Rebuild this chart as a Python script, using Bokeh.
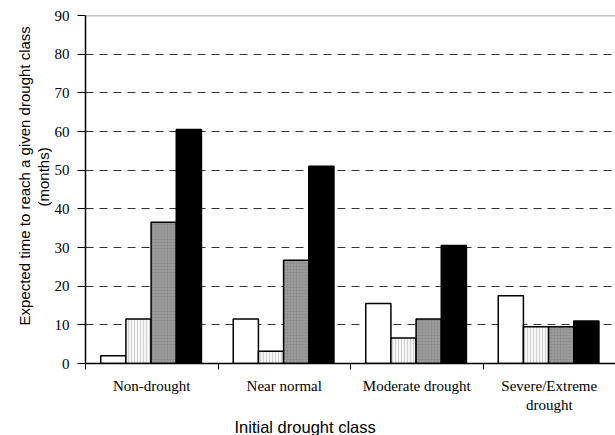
from bokeh.plotting import figure
from bokeh.models import FixedTicker, Span, ColumnDataSource, Title
from bokeh.embed import file_html
from bokeh.resources import INLINE

categories = ["Non-drought", "Near normal", "Moderate drought", "Severe/Extreme\ndrought"]
series1 = [2.0, 11.5, 15.5, 17.5]
series2 = [11.5, 3.2, 6.6, 9.5]
series3 = [36.5, 26.7, 11.5, 9.5]
series4 = [60.5, 51.0, 30.5, 11.0]
y_ticks = [0, 10, 20, 30, 40, 50, 60, 70, 80, 90]
x_title = "Initial drought class"
y_title_1 = "Expected time to reach a given drought class"
y_title_2 = "(months)"

p = figure(width=615, height=435, x_range=(0, 4), y_range=(0, 90),
           output_backend="svg", toolbar_location=None,
           min_border_left=85, min_border_right=0, min_border_top=15, min_border_bottom=72)
p.outline_line_color = None
p.background_fill_color = "white"

centers = [i + 0.5 for i in range(len(categories))]
offsets = [-0.29, -0.10, 0.09, 0.28]
width = 0.19
styles = [
    dict(fill_color="white"),
    dict(fill_color="#f6f6f6", hatch_pattern="|", hatch_color="#d0d0d0", hatch_scale=3, hatch_weight=1),
    dict(fill_color="#9c9c9c", hatch_pattern="+", hatch_color="#8a8a8a", hatch_scale=3, hatch_weight=0.6),
    dict(fill_color="black"),
]
for vals, off, st in zip([series1, series2, series3, series4], offsets, styles):
    src = ColumnDataSource(dict(x=[c + off for c in centers], top=vals))
    p.vbar(x="x", top="top", bottom=0, width=width, source=src,
           line_color="black", line_width=1.5, **st)

# grid
p.xgrid.visible = False
p.ygrid.ticker = FixedTicker(ticks=y_ticks[1:-1])
p.ygrid.grid_line_color = "#333333"
p.ygrid.grid_line_dash = "8 6"
p.ygrid.grid_line_width = 1
p.add_layout(Span(location=90, dimension="width", line_color="#888888", line_width=1.5))

# y axis
p.yaxis.ticker = FixedTicker(ticks=y_ticks)
p.yaxis.major_tick_out = 8
p.yaxis.major_tick_in = 0
p.yaxis.minor_tick_line_color = None
p.yaxis.axis_line_color = "black"
p.yaxis.axis_line_width = 1.5
p.yaxis.major_tick_line_color = "black"
p.yaxis.major_label_text_font = "Liberation Serif"
p.yaxis.major_label_text_font_size = "15px"
p.yaxis.major_label_text_color = "black"
p.yaxis.major_label_standoff = 8

# x axis
p.xaxis.ticker = FixedTicker(ticks=centers, minor_ticks=[0, 1, 2, 3, 4])
p.xaxis.major_label_overrides = {c: lab for c, lab in zip(centers, categories)}
p.xaxis.major_tick_line_color = None
p.xaxis.major_tick_out = 6
p.xaxis.minor_tick_out = 6
p.xaxis.minor_tick_in = 0
p.xaxis.minor_tick_line_color = "black"
p.xaxis.axis_line_color = "black"
p.xaxis.axis_line_width = 1.5
p.xaxis.major_label_text_font = "Liberation Serif"
p.xaxis.major_label_text_font_size = "15px"
p.xaxis.major_label_text_color = "black"
p.xaxis.major_label_standoff = 8

title_style = dict(text_font="Liberation Sans", text_font_style="normal", text_color="black",
                   standoff=0, align="left")
p.add_layout(Title(text=x_title, text_font_size="16.5px", offset=149, **title_style), "below")
p.add_layout(Title(text=y_title_2, text_font_size="15px", offset=157, **title_style), "left")
p.add_layout(Title(text=y_title_1, text_font_size="15px", offset=38, **title_style), "left")

open("out.html", "w").write(file_html(p, INLINE))
